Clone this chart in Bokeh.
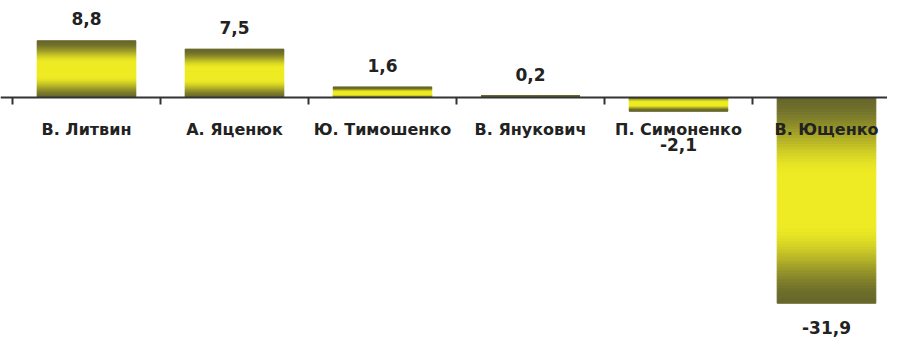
from bokeh.plotting import figure
from bokeh.models import Range1d
from bokeh.core.properties import value
from bokeh.embed import file_html
from bokeh.resources import INLINE

# ---- data ----
candidates = ["В. Литвин", "А. Яценюк", "Ю. Тимошенко", "В. Янукович", "П. Симоненко", "В. Ющенко"]
changes = [8.8, 7.5, 1.6, 0.2, -2.1, -31.9]
value_labels = ["8,8", "7,5", "1,6", "0,2", "-2,1", "-31,9"]

# ---- layout / styling ----
W, H = 887, 337
PX_PER_UNIT = 6.45
ZERO_PX = 97
Y_END = ZERO_PX / PX_PER_UNIT
Y_START = Y_END - H / PX_PER_UNIT
CAT_PX = 148
X_START = -12 / CAT_PX
X_END = X_START + W / CAT_PX

DARK = (104, 104, 44)
BRIGHT = (238, 235, 36)
FONT = value("DejaVu Sans")

p = figure(width=W, height=H, output_backend="svg", toolbar_location=None,
           x_range=Range1d(X_START, X_END), y_range=Range1d(Y_START, Y_END),
           min_border=0, min_border_left=0, min_border_right=0,
           min_border_top=0, min_border_bottom=0)
p.axis.visible = False
p.grid.visible = False
p.outline_line_color = None
p.background_fill_color = "white"
p.border_fill_color = "white"


def mix(t):
    s = 1 - abs(2 * t - 1)
    f = min(1.0, s * 1.3)
    f = f * f * (3 - 2 * f)
    r, g, b = (int(round(d + (br - d) * f)) for d, br in zip(DARK, BRIGHT))
    return "#%02x%02x%02x" % (r, g, b)


# gradient bars as stacked slices
N = 70
left, right, bottom, top, color = [], [], [], [], []
for i, v in enumerate(changes):
    for k in range(N):
        a = v * k / N
        b = v * (k + 1) / N
        left.append(i + 1 / 6)
        right.append(i + 5 / 6)
        bottom.append(min(a, b))
        top.append(max(a, b))
        color.append(mix((k + 0.5) / N))
p.quad(left=left, right=right, bottom=bottom, top=top,
       fill_color=color, line_color=color, line_width=1)

# axis line and category-boundary ticks
p.segment(x0=[X_START], y0=[0], x1=[X_END], y1=[0], line_color="#333333", line_width=2)
tick_len = 7 / PX_PER_UNIT
n = len(candidates)
p.segment(x0=list(range(n)), y0=[0] * n, x1=list(range(n)), y1=[-tick_len] * n,
          line_color="#333333", line_width=2)

# category labels
centers = [i + 0.5 for i in range(n)]
p.text(x=centers, y=[0] * n, text=candidates, text_font=FONT, text_font_style="bold",
       text_font_size="16px", text_color="#222222", text_align="center",
       text_baseline="alphabetic", y_offset=31.5)

# value labels
pos_x = [c for c, v in zip(centers, changes) if v >= 0]
pos_y = [v for v in changes if v >= 0]
pos_t = [t for t, v in zip(value_labels, changes) if v >= 0]
p.text(x=pos_x, y=pos_y, text=pos_t, text_font=FONT, text_font_style="bold",
       text_font_size="17px", text_color="#222222", text_align="center",
       text_baseline="alphabetic", y_offset=-22)

CLEAR = 3.57  # keep negative labels below the category names
neg_x = [c for c, v in zip(centers, changes) if v < 0]
neg_y = [min(v, -CLEAR) for v in changes if v < 0]
neg_t = [t for t, v in zip(value_labels, changes) if v < 0]
p.text(x=neg_x, y=neg_y, text=neg_t, text_font=FONT, text_font_style="bold",
       text_font_size="17px", text_color="#222222", text_align="center",
       text_baseline="alphabetic", y_offset=24)

open("out.html", "w").write(file_html(p, INLINE))
